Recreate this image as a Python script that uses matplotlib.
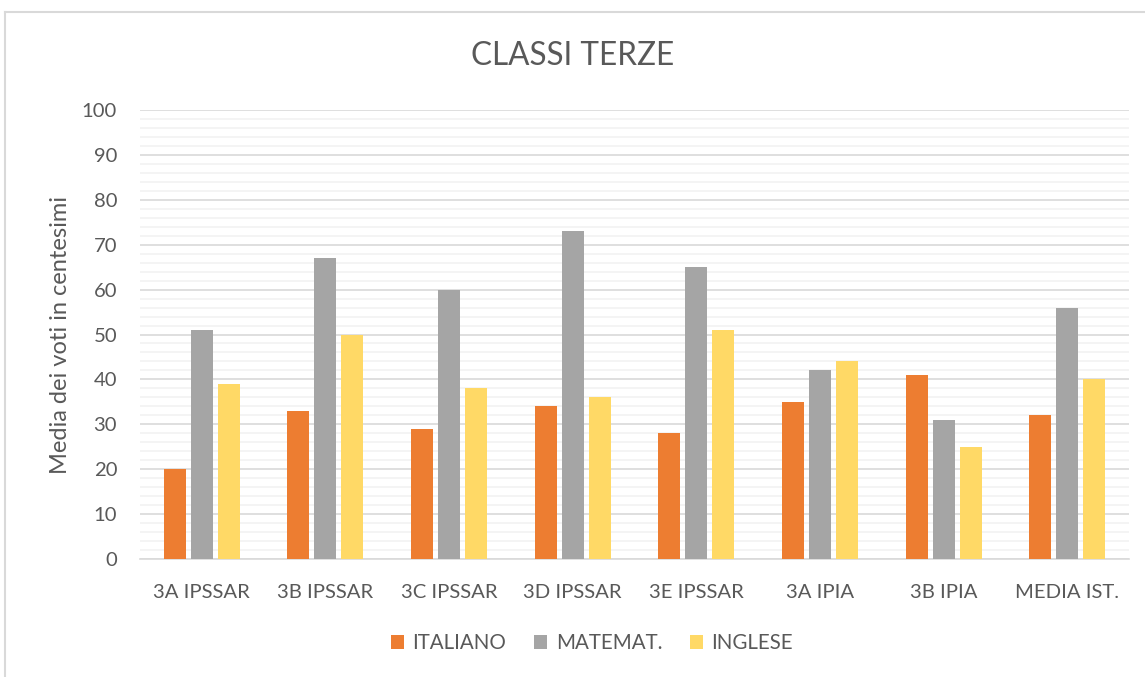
import matplotlib
matplotlib.use("Agg")
import matplotlib.pyplot as plt
import numpy as np
from matplotlib.lines import Line2D
from matplotlib.ticker import MultipleLocator

categories = ["3A IPSSAR", "3B IPSSAR", "3C IPSSAR", "3D IPSSAR", "3E IPSSAR", "3A IPIA", "3B IPIA", "MEDIA IST."]
italiano = [20, 33, 29, 34, 28, 35, 41, 32]
matemat = [51, 67, 60, 73, 65, 42, 31, 56]
inglese = [39, 50, 38, 36, 51, 44, 25, 40]
series_names = ["ITALIANO", "MATEMAT.", "INGLESE"]
colors = ["#ED7D31", "#A5A5A5", "#FFD966"]

plt.rcParams['font.family'] = ['Lato', 'DejaVu Sans']
txt = "#595959"

fig = plt.figure(figsize=(11.45, 6.77), dpi=100)
ax = fig.add_axes([140/1145, 1-559/677, (1129-140)/1145, (559-110)/677])

x = np.arange(len(categories))
w = 0.178
off = 0.218
for i, (vals, c) in enumerate(zip([italiano, matemat, inglese], colors)):
    ax.bar(x + (i-1)*off, vals, width=w, color=c, label=series_names[i], zorder=3)

ax.set_xlim(-0.5, len(categories)-0.5)
ax.set_ylim(0, 100)
ax.yaxis.set_major_locator(MultipleLocator(10))
ax.yaxis.set_minor_locator(MultipleLocator(2))
ax.grid(which='major', axis='y', color='#D9D9D9', linewidth=1.2, zorder=0)
ax.grid(which='minor', axis='y', color='#F2F2F2', linewidth=1.2, zorder=0)
for s in ['top', 'right', 'left']:
    ax.spines[s].set_visible(False)
ax.spines['bottom'].set_color('#D9D9D9')
ax.spines['bottom'].set_linewidth(1.2)
ax.tick_params(axis='both', which='both', length=0, colors=txt, labelsize=14.6)
ax.tick_params(axis='y', pad=16.5)
ax.tick_params(axis='x', pad=18)
ax.set_xticks(x)
ax.set_xticklabels(categories)
ax.set_ylabel("Media dei voti in centesimi", fontsize=17, color=txt, labelpad=8)

fig.text(0.5, 1-56/677, "CLASSI TERZE", ha='center', va='center', fontsize=22.7, color=txt)

leg = fig.legend(loc='center', bbox_to_anchor=(592/1145, 1-643/677), ncol=3, frameon=False,
                 fontsize=14.8, labelcolor=txt, handlelength=0.65, handleheight=0.65,
                 handletextpad=0.4, columnspacing=1.35)

# chart border (left and top visible)
fig.add_artist(Line2D([5/1145, 5/1145], [0, 1-12/677], transform=fig.transFigure, color='#D9D9D9', lw=1.5))
fig.add_artist(Line2D([5/1145, 1], [1-12/677, 1-12/677], transform=fig.transFigure, color='#D9D9D9', lw=1.5))

fig.savefig("out.png", dpi=100)
